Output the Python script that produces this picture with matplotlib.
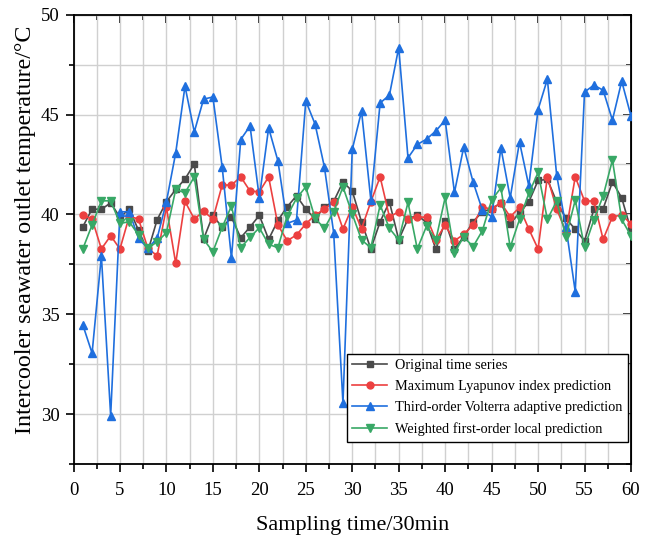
import numpy as np
import matplotlib
matplotlib.use('Agg')
import matplotlib.pyplot as plt
from matplotlib.ticker import MultipleLocator

plt.rcParams['font.family'] = ['Liberation Serif', 'DejaVu Serif']

# sampling index 1..60
x = np.arange(1, 61)

original = [39.38, 40.27, 40.25, 40.58, 39.85, 40.27, 39.2, 38.15, 39.73, 40.63,
            41.25, 41.77, 42.53, 38.77, 39.95, 39.35, 39.85, 38.83, 39.37, 39.95,
            38.75, 39.7, 40.38, 40.93, 40.27, 39.77, 40.37, 40.65, 41.62, 41.17,
            39.62, 38.27, 39.63, 40.63, 38.73, 39.78, 39.95, 39.6, 38.25, 39.65,
            38.27, 38.88, 39.63, 40.13, 40.28, 40.58, 39.53, 40.08, 40.62, 41.7,
            41.75, 40.63, 39.8, 39.25, 38.67, 40.25, 40.28, 41.63, 40.83, 39.2]

lyapunov = [39.97, 39.77, 38.27, 38.93, 38.27, 39.9, 39.77, 38.3, 37.93, 40.35,
            37.55, 40.65, 39.77, 40.15, 39.77, 41.47, 41.47, 41.88, 41.17, 41.13,
            41.88, 39.47, 38.68, 38.97, 39.52, 39.97, 40.25, 40.63, 39.27, 40.38,
            39.28, 40.63, 41.88, 39.88, 40.13, 39.77, 39.88, 39.85, 38.72, 39.47,
            38.68, 39.0, 39.47, 40.38, 40.25, 40.58, 39.88, 40.35, 39.27, 38.27,
            41.88, 40.27, 39.13, 41.88, 40.67, 40.67, 38.75, 39.88, 39.97, 39.53]

volterra = [34.47, 33.05, 37.93, 29.92, 40.13, 40.13, 38.8, 38.3, 38.8, 40.63,
            43.08, 46.42, 44.13, 45.77, 45.88, 42.38, 37.8, 43.75, 44.43, 40.83,
            44.33, 42.68, 39.55, 39.72, 45.68, 44.52, 42.38, 39.08, 30.55, 43.25,
            45.17, 40.72, 45.58, 45.97, 48.35, 42.83, 43.5, 43.77, 44.18, 44.72,
            41.1, 43.38, 41.63, 40.22, 39.88, 43.33, 40.83, 43.63, 41.43, 45.25,
            46.77, 41.97, 39.38, 36.13, 46.13, 46.47, 46.22, 44.72, 46.67, 44.92]

weighted = [38.27, 39.47, 40.68, 40.68, 39.55, 39.63, 38.97, 38.3, 38.63, 39.08,
            41.25, 41.08, 41.88, 38.75, 38.13, 39.35, 40.42, 38.33, 38.85, 39.33,
            38.5, 38.33, 39.93, 40.8, 41.38, 39.8, 39.3, 40.13, 41.38, 40.02,
            38.72, 38.33, 40.47, 39.3, 38.72, 40.6, 38.27, 39.42, 38.72, 40.85,
            38.08, 38.88, 38.38, 39.18, 40.72, 41.33, 38.35, 39.75, 41.05, 42.1,
            39.75, 40.67, 38.88, 40.72, 38.35, 39.72, 40.92, 42.72, 39.75, 38.92]

labels = ['Original time series',
          'Maximum Lyapunov index prediction',
          'Third-order Volterra adaptive prediction',
          'Weighted first-order local prediction']

fig = plt.figure(figsize=(6.52, 5.38), dpi=100)
ax = fig.add_axes([73.5 / 652, 1 - 464 / 538, (631 - 73.5) / 652, (464 - 14.7) / 538])

ax.plot(x, original, color='#4a4a4a', marker='s', ms=4.5, lw=1.2, label=labels[0], zorder=3)
ax.plot(x, lyapunov, color='#ec4040', marker='o', ms=5, lw=1.2, label=labels[1], zorder=3)
ax.plot(x, volterra, color='#1f6fde', marker='^', ms=5.5, lw=1.2, label=labels[2], zorder=3)
ax.plot(x, weighted, color='#38a866', marker='v', ms=5.5, lw=1.2, label=labels[3], zorder=3)

ax.set_xlim(0, 60)
ax.set_ylim(27.5, 50)
ax.xaxis.set_major_locator(MultipleLocator(5))
ax.xaxis.set_minor_locator(MultipleLocator(2.5))
ax.yaxis.set_major_locator(MultipleLocator(5))
ax.yaxis.set_minor_locator(MultipleLocator(2.5))
ax.grid(True, which='both', color='#d0d0d0', lw=1.0, zorder=0)
ax.set_axisbelow(True)

ax.tick_params(which='both', labelsize=13.5, width=1.2, direction='out')
ax.tick_params(which='major', length=6)
ax.tick_params(which='minor', length=3.5)
ax.tick_params(axis='x', pad=7)
ax.tick_params(axis='y', pad=4)
for s in ax.spines.values():
    s.set_linewidth(1.3)

# top and right ticks point inward
ax2 = ax.secondary_xaxis('top')
ax2.xaxis.set_major_locator(MultipleLocator(5))
ax2.xaxis.set_minor_locator(MultipleLocator(2.5))
ax2.tick_params(which='both', direction='in', labeltop=False, width=1.2)
ax2.tick_params(which='major', length=6)
ax2.tick_params(which='minor', length=3.5)
ax3 = ax.secondary_yaxis('right')
ax3.yaxis.set_major_locator(MultipleLocator(5))
ax3.yaxis.set_minor_locator(MultipleLocator(2.5))
ax3.tick_params(which='both', direction='in', labelright=False, width=1.2)
ax3.tick_params(which='major', length=6)
ax3.tick_params(which='minor', length=3.5)

ax.set_xlabel('Sampling time/30min', fontsize=16, labelpad=12)
ax.set_ylabel('Intercooler seawater outlet temperature/°C', fontsize=17.3)
ax.yaxis.set_label_coords(-0.068, 0.522)

leg = ax.legend(loc='lower right', bbox_to_anchor=(0.994, 0.05), fontsize=10.3,
                frameon=True, fancybox=False, edgecolor='black', framealpha=1,
                handlelength=2.45, borderpad=0.4, labelspacing=0.55, handletextpad=0.5,
                borderaxespad=0)
leg.get_frame().set_linewidth(1.0)

fig.savefig('out.png', dpi=100)
